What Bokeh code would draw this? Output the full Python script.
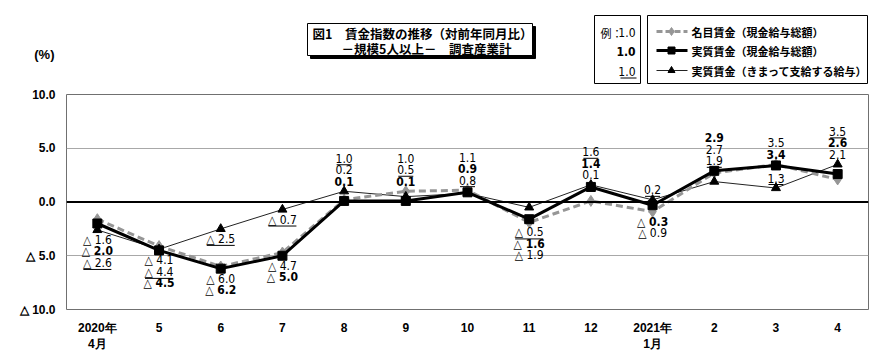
from bokeh.plotting import figure
from bokeh.models import FactorRange, Range1d, FixedTicker, Span, ColumnDataSource
from bokeh.layouts import column
from bokeh.core.properties import value
from bokeh.transform import dodge
from bokeh.embed import file_html
from bokeh.resources import INLINE

# ---------------- data ----------------
months = ["2020年\n4月", "5", "6", "7", "8", "9", "10", "11", "12",
          "2021年\n1月", "2", "3", "4"]
nominal = [-1.6, -4.1, -6.0, -4.7, 0.2, 1.0, 1.1, -1.9, 0.1, -0.9, 2.7, 3.5, 2.1]
real_total = [-2.0, -4.5, -6.2, -5.0, 0.1, 0.1, 0.9, -1.6, 1.4, -0.3, 2.9, 3.4, 2.6]
real_contract = [-2.6, -4.4, -2.5, -0.7, 1.0, 0.5, 0.8, -0.5, 1.6, 0.2, 1.9, 1.3, 3.5]
y_ticks = [-10, -5, 0, 5, 10]
y_tick_labels = ["△ 10.0", "△ 5.0", "0.0", "5.0", "10.0"]
series_names = ["名目賃金（現金給与総額）", "実質賃金（現金給与総額）", "実質賃金（きまって支給する給与）"]
title_lines = ["図1　賃金指数の推移（対前年同月比）", "－規模5人以上－　調査産業計"]
unit_label = "(%)"
example_labels = ["例：", "1.0"]

# label stacking per month (direction, series order top->bottom)
label_groups = [
    [("below", "NRC")],
    [("below", "NCR")],
    [("below", "NR"), ("below", "C")],
    [("below", "C"), ("below", "NR")],
    [("above", "CNR")],
    [("above", "NCR")],
    [("above", "NRC")],
    [("below", "CRN")],
    [("above", "CRN")],
    [("above", "C"), ("below", "RN")],
    [("above", "RNC")],
    [("above", "NR"), ("above", "C")],
    [("above", "CRN")],
]

# ---------------- layout constants ----------------
W = 882
HEAD_H = 86
MAIN_H = 270
BORDER_L, BORDER_R, BORDER_T, BORDER_B = 66, 14, 8, 47
FRAME_H = MAIN_H - BORDER_T - BORDER_B
FRAME_W = W - BORDER_L - BORDER_R
Y_MIN, Y_MAX = -10, 10
ppu = FRAME_H / (Y_MAX - Y_MIN)           # px per y unit
fpu = len(months) / FRAME_W               # factor units per px
GAP, STEP = 10, 11.5

GRAY = "#969696"
NUM_FONT = value("'Liberation Sans Narrow', 'DejaVu Sans Condensed', sans-serif")
AX_FONT = "Liberation Sans"
JP_FONT = value("Noto Sans CJK JP")


def fmt(v):
    return ("△ %.1f" % abs(v)) if v < 0 else ("%.1f" % v)


def style_axis(ax, size="12px"):
    ax.axis_line_color = None
    ax.major_tick_line_color = None
    ax.minor_tick_line_color = None
    ax.major_tick_out = 0
    ax.major_tick_in = 0
    ax.major_label_text_font = AX_FONT
    ax.major_label_text_font_size = size
    ax.major_label_text_font_style = "bold"
    ax.major_label_text_color = "black"


# ---------------- main figure ----------------
p = figure(width=W, height=MAIN_H, x_range=FactorRange(factors=months, range_padding=0),
           y_range=Range1d(Y_MIN, Y_MAX), toolbar_location=None, output_backend="svg",
           min_border_left=BORDER_L, min_border_right=BORDER_R,
           min_border_top=BORDER_T, min_border_bottom=BORDER_B)
p.outline_line_color = "#707070"
p.outline_line_width = 1
p.background_fill_color = "white"
p.border_fill_color = "white"

p.xgrid.visible = False
p.ygrid.ticker = FixedTicker(ticks=[-5, 5])
p.ygrid.grid_line_color = "#a8a8a8"
p.ygrid.grid_line_width = 1

p.yaxis.ticker = FixedTicker(ticks=y_ticks)
p.yaxis.major_label_overrides = dict(zip(y_ticks, y_tick_labels))
style_axis(p.xaxis[0])
style_axis(p.yaxis[0])
p.yaxis.major_label_standoff = 11
p.xaxis.major_label_standoff = 11

p.add_layout(Span(location=0, dimension="width", line_color="black", line_width=2))

src = ColumnDataSource(dict(x=months, n=nominal, r=real_total, c=real_contract))

p.line("x", "c", source=src, line_color="#222222", line_width=1)
p.line("x", "n", source=src, line_color=GRAY, line_width=3, line_dash="7 4")
p.line("x", "r", source=src, line_color="black", line_width=3)
p.scatter("x", "n", source=src, marker="diamond", size=11, color=GRAY)
p.scatter("x", "c", source=src, marker="triangle", size=9, color="black")
p.scatter("x", "r", source=src, marker="square", size=9, color="black")

# ---------------- data labels ----------------
series = {"N": nominal, "R": real_total, "C": real_contract}
lab = {k: dict(x=[], y=[], t=[]) for k in "NRC"}
ul_wide = dict(x=[], y=[])
ul_narrow = dict(x=[], y=[])
for i, groups in enumerate(label_groups):
    for direction, keys in groups:
        vals = [series[k][i] for k in keys]
        n = len(keys)
        for j, k in enumerate(keys):
            if direction == "below":
                yv = min(vals) - (GAP + j * STEP) / ppu
            else:
                yv = max(vals) + (GAP + (n - 1 - j) * STEP) / ppu
            v = series[k][i]
            lab[k]["x"].append(months[i])
            lab[k]["y"].append(yv)
            lab[k]["t"].append(fmt(v))
            if k == "C":
                tgt = ul_wide if v < 0 else ul_narrow
                tgt["x"].append(months[i])
                tgt["y"].append(yv - 6.5 / ppu)

for k, style in (("N", "normal"), ("R", "bold"), ("C", "normal")):
    p.text(x="x", y="y", text="t", source=ColumnDataSource(lab[k]),
           text_font=NUM_FONT, text_font_size="12px", text_font_style=style,
           text_align="center", text_baseline="middle", text_color="black")

for d, half in ((ul_wide, 14), (ul_narrow, 7.5)):
    s = ColumnDataSource(d)
    p.segment(x0=dodge("x", -half * fpu, range=p.x_range), y0="y",
              x1=dodge("x", half * fpu, range=p.x_range), y1="y",
              source=s, line_color="black", line_width=1)

# ---------------- header figure (pixel coordinates of the page) ----------------
UNIT_Y = 54
h = figure(width=W, height=HEAD_H, x_range=Range1d(BORDER_L, W - BORDER_R),
           y_range=Range1d(HEAD_H, 0), toolbar_location=None, output_backend="svg",
           min_border_left=BORDER_L, min_border_right=BORDER_R,
           min_border_top=0, min_border_bottom=0, x_axis_location=None)
h.grid.visible = False
h.outline_line_color = None
h.background_fill_color = "white"
h.border_fill_color = "white"
h.yaxis.ticker = FixedTicker(ticks=[UNIT_Y])
h.yaxis.major_label_overrides = {UNIT_Y: unit_label}
style_axis(h.yaxis[0], size="13px")
h.yaxis.major_label_standoff = 12

# title box with shadow
h.quad(left=[310], right=[535], top=[26], bottom=[58], fill_color="black", line_color="black")
h.quad(left=[307], right=[532], top=[23], bottom=[55], fill_color="white", line_color="black")
h.text(x=[312], y=[33], text=[title_lines[0]], text_font=JP_FONT, text_font_size="12.5px",
       text_font_style="bold", text_baseline="middle", text_align="left")
h.text(x=[426], y=[48], text=[title_lines[1]], text_font=JP_FONT, text_font_size="12.5px",
       text_font_style="bold", text_baseline="middle", text_align="center")

# example box
h.quad(left=[594], right=[640], top=[15], bottom=[83], fill_color="white", line_color="black")
h.text(x=[600], y=[32], text=[example_labels[0]], text_font=JP_FONT, text_font_size="11px",
       text_baseline="middle", text_align="left")
h.text(x=[635], y=[32], text=[example_labels[1]], text_font=NUM_FONT, text_font_size="12px",
       text_baseline="middle", text_align="right")
h.text(x=[635], y=[51], text=[example_labels[1]], text_font=NUM_FONT, text_font_size="12px",
       text_font_style="bold", text_baseline="middle", text_align="right")
h.text(x=[635], y=[71], text=[example_labels[1]], text_font=NUM_FONT, text_font_size="12px",
       text_baseline="middle", text_align="right")
h.segment(x0=[620], y0=[77.5], x1=[636], y1=[77.5], line_color="black", line_width=1)

# legend box
h.quad(left=[647], right=[867], top=[15], bottom=[83], fill_color="white", line_color="black")
rows_y = [31, 50, 70]
h.line([656, 687], [rows_y[0]] * 2, line_color=GRAY, line_width=3, line_dash="6 3")
h.scatter([671], [rows_y[0]], marker="diamond", size=8, color=GRAY)
h.line([656, 687], [rows_y[1]] * 2, line_color="black", line_width=3)
h.scatter([671], [rows_y[1]], marker="square", size=7, color="black")
h.line([656, 687], [rows_y[2]] * 2, line_color="#222222", line_width=1)
h.scatter([671], [rows_y[2]], marker="triangle", size=7, color="black")
h.text(x=[691] * 3, y=rows_y, text=series_names, text_font=JP_FONT, text_font_size="11px",
       text_font_style="bold", text_baseline="middle", text_align="left")

layout = column(h, p, spacing=0)
open("out.html", "w").write(file_html(layout, INLINE))
